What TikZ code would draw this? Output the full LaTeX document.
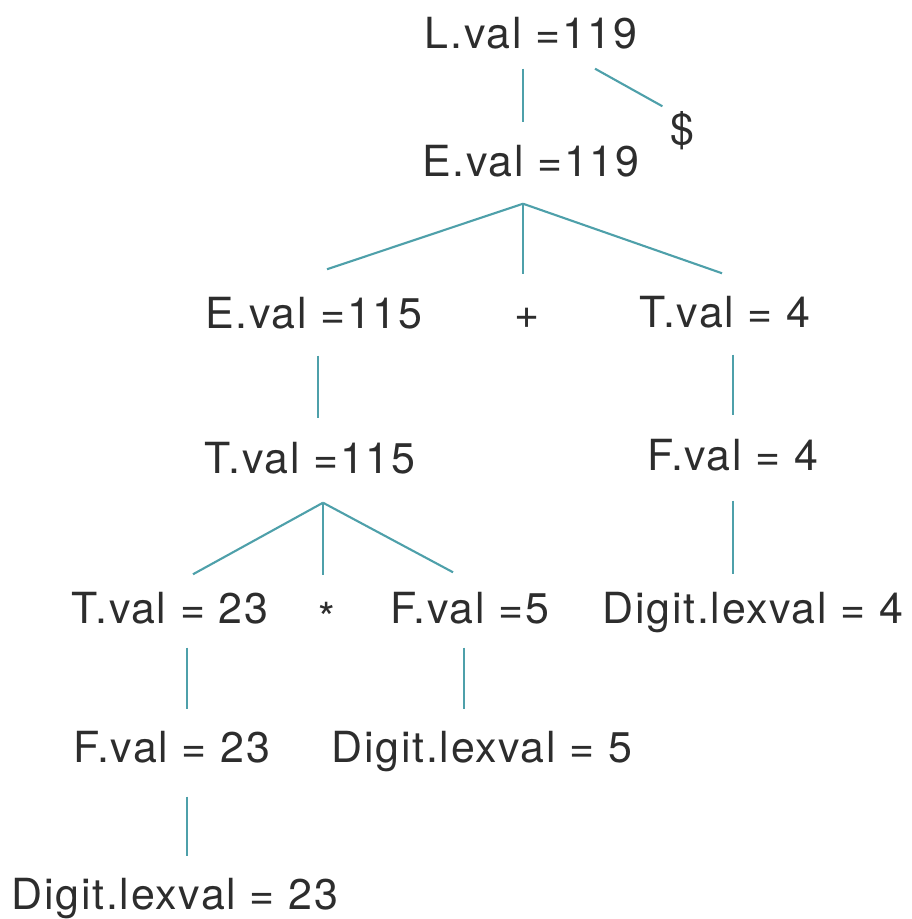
\documentclass[tikz,border=0pt]{standalone}
\usepackage{fontspec}
\setmainfont{TeX Gyre Heros}[LetterSpace=4]

\definecolor{treeline}{RGB}{78,160,170}
\definecolor{labeltext}{RGB}{45,45,45}

\begin{document}
\begin{tikzpicture}[
  x=0.01cm, y=-0.01cm,
  attr/.style={anchor=base,inner xsep=0pt,inner ysep=0pt,text height=5.4mm,text depth=2.6mm,
    font=\fontsize{12.2pt}{14pt}\selectfont,text=labeltext},
  branch/.style={treeline,line width=0.6pt}
]
  \useasboundingbox (0,0) rectangle (911,919);

  \node[attr] (lroot) at (531,49) {L.val =119};
  \node[attr] (dollar) at (682,145) {\$};
  \node[attr] (eroot) at (531,177) {E.val =119};
  \node[attr] (eleft) at (314,329) {E.val =115};
  \node[attr] (plus) at (527,329) {+};
  \node[attr] (tright) at (725,328) {T.val = 4};
  \node[attr] (tmid) at (310,473) {T.val =115};
  \node[attr] (fright) at (733,470) {F.val = 4};
  \node[attr] (tleft) at (170,623) {T.val = 23};
  \node[attr] (times) at (327,623) {\raisebox{-0.25em}{*}};
  \node[attr] (ffive) at (470,623) {F.val =5};
  \node[attr] (dfour) at (753,623) {Digit.lexval = 4};
  \node[attr] (fleft) at (172,762) {F.val = 23};
  \node[attr] (dfive) at (482,762) {Digit.lexval = 5};
  \node[attr] (dleft) at (175,909) {Digit.lexval = 23};

  % L -> E $
  \draw[branch] ([shift={(-8,-7)}]lroot.south) -- ([shift={(-8,0)}]eroot.north);
  \draw[branch] ([shift={(64,-7)}]lroot.south) -- ([shift={(-7,16)}]dollar.north west);
  % E -> E + T
  \draw[branch] ([shift={(-8,0)}]eroot.south) -- ([shift={(13,-5)}]eleft.north);
  \draw[branch] ([shift={(-8,0)}]eroot.south) -- ([shift={(-4,0)}]plus.north);
  \draw[branch] ([shift={(-8,0)}]eroot.south) -- ([shift={(-3,0)}]tright.north);
  \draw[branch] ([shift={(4,0)}]eleft.south) -- ([shift={(8,0)}]tmid.north);
  \draw[branch] ([shift={(8,0)}]tright.south) -- (fright.north);
  % T -> T * F
  \draw[branch] ([shift={(13,3)}]tmid.south) -- ([shift={(23,6)}]tleft.north);
  \draw[branch] ([shift={(13,3)}]tmid.south) -- ([shift={(-4,7)}]times.north);
  \draw[branch] ([shift={(13,3)}]tmid.south) -- ([shift={(-17,4)}]ffive.north);
  \draw[branch] ([shift={(0,4)}]fright.south) -- ([shift={(-20,6)}]dfour.north);
  \draw[branch] ([shift={(17,-2)}]tleft.south) -- ([shift={(15,2)}]fleft.north);
  \draw[branch] ([shift={(-6,-2)}]ffive.south) -- ([shift={(-18,2)}]dfive.north);
  \draw[branch] ([shift={(15,8)}]fleft.south) -- ([shift={(12,2)}]dleft.north);
\end{tikzpicture}
\end{document}
